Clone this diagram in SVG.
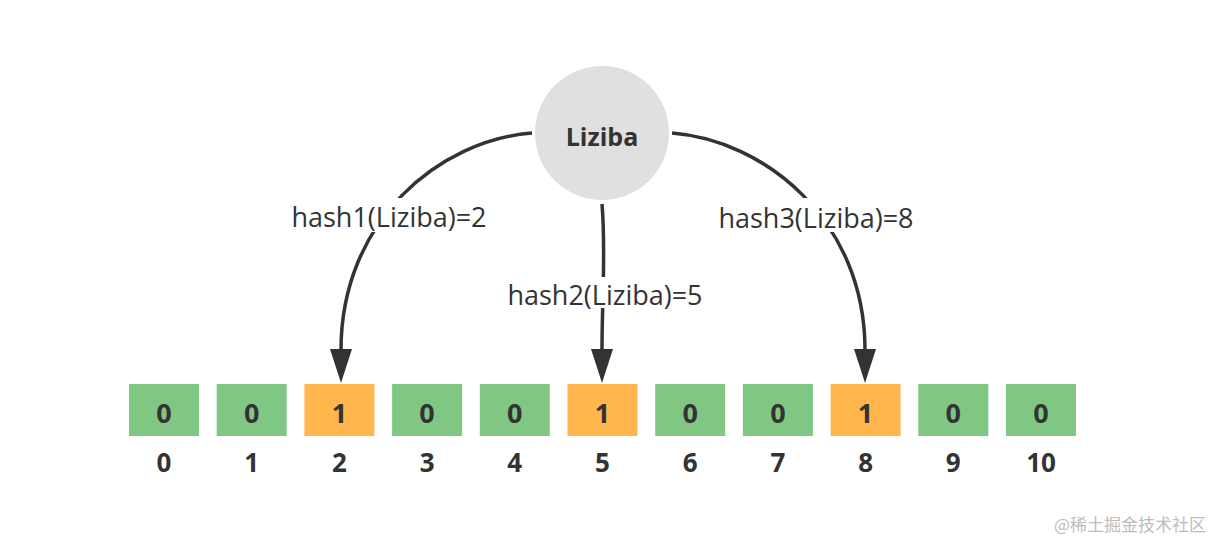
<svg xmlns="http://www.w3.org/2000/svg" width="1228" height="552" viewBox="0 0 1228 552">
<style>
.cell0{fill:#81C784}
.cell1{fill:#FFB74D}
.val{font-family:"Open Sans","Liberation Sans",sans-serif;font-weight:bold;font-size:27px;fill:#333;text-anchor:middle}
.idx{font-family:"Open Sans","Liberation Sans",sans-serif;font-weight:bold;font-size:26px;fill:#333;text-anchor:middle}
.lbl{font-family:"Open Sans","Liberation Sans",sans-serif;font-size:27px;fill:#333;text-anchor:middle}
.edge{fill:none;stroke:#333;stroke-width:3.5}
.lblbg{fill:#fff}
</style>
<defs>
<marker id="arrow" markerUnits="userSpaceOnUse" markerWidth="34" markerHeight="22" viewBox="0 0 34 22" refX="1" refY="11" orient="auto">
<path d="M0,0 L34,11 L0,22 Z" fill="#333"/>
</marker>
</defs>
<rect width="1228" height="552" fill="#fff"/>
<g id="connectors">
<path class="edge" d="M532,133 C440,140 341,220 341,350" marker-end="url(#arrow)"/>
<path class="edge" d="M602,204 C606,250 602,300 602,350" marker-end="url(#arrow)"/>
<path class="edge" d="M672,133 C764,140 865,220 865,350" marker-end="url(#arrow)"/>
<g id="label-hash1"><rect class="lblbg" x="290" y="198" width="198" height="34"/><text class="lbl" x="389" y="227">hash1(Liziba)=2</text></g>
<g id="label-hash2"><rect class="lblbg" x="505" y="277" width="200" height="31"/><text class="lbl" x="605" y="305">hash2(Liziba)=5</text></g>
<g id="label-hash3"><rect class="lblbg" x="716" y="198" width="200" height="34"/><text class="lbl" x="816" y="228">hash3(Liziba)=8</text></g>
</g>
<g id="node-liziba">
<circle cx="602" cy="133" r="67" fill="#E0E0E0"/>
<text x="602" y="146" style="font-family:'Open Sans','Liberation Sans',sans-serif;font-weight:bold;font-size:25px;fill:#333;text-anchor:middle">Liziba</text>
</g>
<g id="cell-0"><rect class="cell0" x="129" y="384" width="70" height="52"/><text class="val" x="164" y="423">0</text><text class="idx" x="164" y="472">0</text></g>
<g id="cell-1"><rect class="cell0" x="216.7" y="384" width="70" height="52"/><text class="val" x="251.7" y="423">0</text><text class="idx" x="251.7" y="472">1</text></g>
<g id="cell-2"><rect class="cell1" x="304.4" y="384" width="70" height="52"/><text class="val" x="339.4" y="423">1</text><text class="idx" x="339.4" y="472">2</text></g>
<g id="cell-3"><rect class="cell0" x="392.1" y="384" width="70" height="52"/><text class="val" x="427.1" y="423">0</text><text class="idx" x="427.1" y="472">3</text></g>
<g id="cell-4"><rect class="cell0" x="479.8" y="384" width="70" height="52"/><text class="val" x="514.8" y="423">0</text><text class="idx" x="514.8" y="472">4</text></g>
<g id="cell-5"><rect class="cell1" x="567.5" y="384" width="70" height="52"/><text class="val" x="602.5" y="423">1</text><text class="idx" x="602.5" y="472">5</text></g>
<g id="cell-6"><rect class="cell0" x="655.2" y="384" width="70" height="52"/><text class="val" x="690.2" y="423">0</text><text class="idx" x="690.2" y="472">6</text></g>
<g id="cell-7"><rect class="cell0" x="742.9" y="384" width="70" height="52"/><text class="val" x="777.9" y="423">0</text><text class="idx" x="777.9" y="472">7</text></g>
<g id="cell-8"><rect class="cell1" x="830.6" y="384" width="70" height="52"/><text class="val" x="865.6" y="423">1</text><text class="idx" x="865.6" y="472">8</text></g>
<g id="cell-9"><rect class="cell0" x="918.3" y="384" width="70" height="52"/><text class="val" x="953.3" y="423">0</text><text class="idx" x="953.3" y="472">9</text></g>
<g id="cell-10"><rect class="cell0" x="1006" y="384" width="70" height="52"/><text class="val" x="1041" y="423">0</text><text class="idx" x="1041" y="472">10</text></g>
<text x="1130" y="531" style="font-family:'Noto Sans CJK SC','Noto Sans',sans-serif;font-size:17px;fill:#BDBDBD;text-anchor:middle">@稀土掘金技术社区</text>
</svg>
